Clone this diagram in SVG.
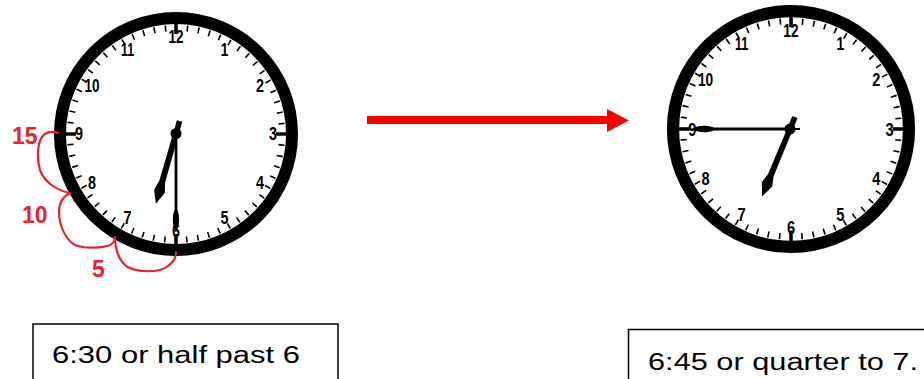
<svg xmlns="http://www.w3.org/2000/svg" xmlns:xlink="http://www.w3.org/1999/xlink" width="924" height="379" viewBox="0 0 924 379">
<style>
.ring{fill:#fff;stroke:#000;stroke-width:12}
.mt{fill:none;stroke:#000;stroke-width:6;stroke-dasharray:1.6 9.5}
.ht{stroke:#000;stroke-width:3.5}
.num{font-family:"Liberation Sans",Arial,sans-serif;font-weight:bold;font-size:18px;text-anchor:middle;fill:#000}
.loop{fill:none;stroke:#e8252b;stroke-width:2.2;stroke-linecap:round}
.rnum{font-family:"Liberation Sans",Arial,sans-serif;font-weight:bold;font-size:23px;fill:#e8252b}
.box{fill:#fff;stroke:#000;stroke-width:1.5}
.cap{font-family:"Liberation Sans",Arial,sans-serif;font-size:23px;fill:#000}
</style>
<defs>
<g id="face">
<circle class="ring" r="116"/>
<circle class="mt" r="106" stroke-dashoffset="0.8"/>
<line class="ht" x1="0" y1="-122" x2="0" y2="-100"/>
<line class="ht" x1="0" y1="122" x2="0" y2="100"/>
<line class="ht" x1="-122" y1="0" x2="-100" y2="0"/>
<line class="ht" x1="122" y1="0" x2="100" y2="0"/>
<text class="num" x="0" y="-90.6" textLength="15" lengthAdjust="spacingAndGlyphs">12</text>
<text class="num" x="48.5" y="-77.6" textLength="7.5" lengthAdjust="spacingAndGlyphs">1</text>
<text class="num" x="84" y="-42.1" textLength="8" lengthAdjust="spacingAndGlyphs">2</text>
<text class="num" x="97" y="6.4" textLength="8" lengthAdjust="spacingAndGlyphs">3</text>
<text class="num" x="84" y="54.9" textLength="8" lengthAdjust="spacingAndGlyphs">4</text>
<text class="num" x="48.5" y="90.4" textLength="8" lengthAdjust="spacingAndGlyphs">5</text>
<text class="num" x="0" y="103.4" textLength="8" lengthAdjust="spacingAndGlyphs">6</text>
<text class="num" x="-48.5" y="90.4" textLength="8" lengthAdjust="spacingAndGlyphs">7</text>
<text class="num" x="-84" y="54.9" textLength="8" lengthAdjust="spacingAndGlyphs">8</text>
<text class="num" x="-97" y="6.4" textLength="8" lengthAdjust="spacingAndGlyphs">9</text>
<text class="num" x="-84" y="-42.1" textLength="15" lengthAdjust="spacingAndGlyphs">10</text>
<text class="num" x="-48.5" y="-77.6" textLength="13" lengthAdjust="spacingAndGlyphs">11</text>
</g>
<g id="hour">
<path d="M-2.8,0 L-3,-50 L-5.6,-60 L0,-73 L5.6,-60 L3,-50 L2.8,0 Z" fill="#000"/>
<rect x="-2.8" y="4" width="5.6" height="9" fill="#000"/>
</g>
<path id="minute" d="M-1.4,0 L-1.4,-76 C-3.8,-82 -3.8,-92 -1,-96 L0,-99 L1,-96 C3.8,-92 3.8,-82 1.4,-76 L1.4,0 Z" fill="#000"/>
</defs>

<g id="clock-left">
<use xlink:href="#face" href="#face" transform="translate(176,134)"/>
<use xlink:href="#minute" href="#minute" transform="translate(176,133.5) rotate(180)"/>
<use xlink:href="#hour" href="#hour" transform="translate(176,133.5) rotate(196)"/>
<circle cx="176" cy="133.5" r="5.5" fill="#000"/>
</g>

<g id="counting-loops">
<path class="loop" d="M58,133 C52,131 46,132 42,137 C37,144 37,160 40,170 C44,181 55,190 70,193"/>
<path class="loop" d="M70,193 C64,196 59,202 59,212 C59,226 66,240 75,245 C85,249 103,248 110,245 C114,243 115,240 115,237"/>
<path class="loop" d="M115,237 C115,246 117,258 126,266 C136,273 160,273 168,266 C175,261 176,256 176,252"/>
<text class="rnum" x="12" y="143.5">15</text>
<text class="rnum" x="22" y="222.5">10</text>
<text class="rnum" x="92" y="277">5</text>
</g>

<g id="clock-right">
<use xlink:href="#face" href="#face" transform="translate(791,129) scale(1.017)"/>
<use xlink:href="#minute" href="#minute" transform="translate(790,129) rotate(270)"/>
<line x1="790" y1="129" x2="800" y2="129" stroke="#000" stroke-width="2"/>
<use xlink:href="#hour" href="#hour" transform="translate(790,129) rotate(202.5)"/>
<circle cx="790" cy="129" r="5.5" fill="#000"/>
</g>

<g id="connectors">
<line x1="367" y1="120" x2="609" y2="120" stroke="#ff0000" stroke-width="8"/>
<polygon points="607,109 629,120.5 607,132" fill="#ff0000"/>
</g>

<g id="label-left">
<rect class="box" x="33" y="324" width="305" height="70"/>
<text class="cap" x="52" y="363" textLength="248" lengthAdjust="spacingAndGlyphs">6:30 or half past 6</text>
</g>
<g id="label-right">
<rect class="box" x="628.5" y="329.5" width="320" height="70"/>
<text class="cap" x="648" y="370" textLength="270" lengthAdjust="spacingAndGlyphs">6:45 or quarter to 7.</text>
</g>
</svg>
